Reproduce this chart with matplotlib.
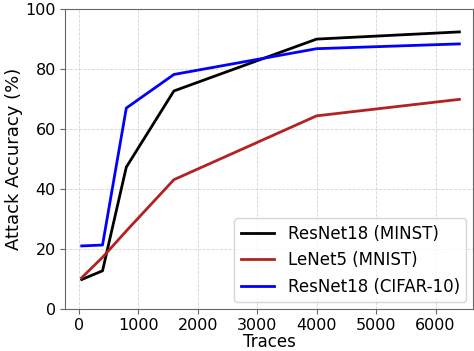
import matplotlib
matplotlib.use("Agg")
import matplotlib.pyplot as plt

traces = [50, 400, 800, 1600, 4000, 6400]
resnet_mnist = [9.8, 12.7, 47.3, 72.7, 90.0, 92.4]
lenet_mnist = [10.4, 17.2, 26.0, 43.1, 64.4, 69.9]
resnet_cifar = [21.0, 21.3, 67.0, 78.2, 86.8, 88.4]

fig = plt.figure(figsize=(4.74, 3.51), dpi=100)
ax = fig.add_axes([0.137, 0.12, 0.861, 0.854])
ax.plot(traces, resnet_mnist, color="black", linewidth=2, label="ResNet18 (MINST)")
ax.plot(traces, lenet_mnist, color="firebrick", linewidth=2, label="LeNet5 (MNIST)")
ax.plot(traces, resnet_cifar, color="blue", linewidth=2, label="ResNet18 (CIFAR-10)")
ax.set_ylim(0, 100)
ax.set_xlim(-232, 6630)
ax.set_xticks([0, 1000, 2000, 3000, 4000, 5000, 6000])
ax.set_yticks([0, 20, 40, 60, 80, 100])
ax.tick_params(labelsize=11.5, color="#666666", pad=3)
ax.set_xlabel("Traces", fontsize=12, labelpad=0)
ax.set_ylabel("Attack Accuracy (%)", fontsize=13, labelpad=2)
for s in ax.spines.values():
    s.set_color("#666666")
ax.grid(True, linestyle="--", color="lightgray", linewidth=0.6)
ax.legend(loc="lower right", fontsize=12, borderaxespad=0.4)
fig.savefig("out.png")
